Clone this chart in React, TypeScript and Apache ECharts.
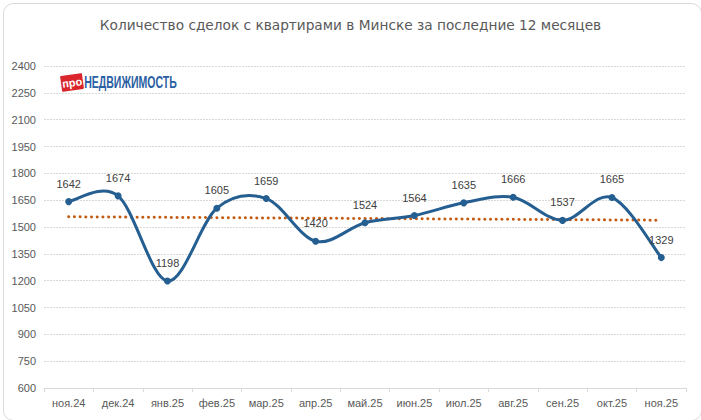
import React, { useEffect, useRef } from "react";
import * as echarts from "echarts";

const categories = ["ноя.24", "дек.24", "янв.25", "фев.25", "мар.25", "апр.25", "май.25", "июн.25", "июл.25", "авг.25", "сен.25", "окт.25", "ноя.25"];
const deals = [1642, 1674, 1198, 1605, 1659, 1420, 1524, 1564, 1635, 1666, 1537, 1665, 1329];
const yMin = 600;
const yMax = 2400;
const yStep = 150;
const title = "Количество сделок с квартирами в Минске за последние 12 месяцев";

function linearTrend(values: number[]): number[] {
  const n = values.length;
  const mx = (n - 1) / 2;
  const my = values.reduce((a, b) => a + b, 0) / n;
  let num = 0;
  let den = 0;
  values.forEach((v, i) => {
    num += (i - mx) * (v - my);
    den += (i - mx) * (i - mx);
  });
  const slope = num / den;
  return values.map((_, i) => +(my + slope * (i - mx)).toFixed(2));
}

const FONT = "'Liberation Sans', Arial, sans-serif";
const TFONT = "'DejaVu Sans', Verdana, sans-serif";
const LINE_COLOR = "#255E91";

export default function App() {
  const ref = useRef<HTMLDivElement>(null);
  useEffect(() => {
    document.body.style.margin = "0";
    const chart = echarts.init(ref.current!, null, { renderer: "svg" });
    chart.setOption({
      animation: false,
      backgroundColor: "#ffffff",
      title: {
        text: title,
        left: "center",
        top: 13,
        textStyle: { fontFamily: TFONT, fontSize: 13.7, fontWeight: "normal", color: "#595959" },
      },
      grid: { left: 44, right: 15, top: 66, bottom: 32 },
      xAxis: {
        type: "category",
        data: categories,
        boundaryGap: true,
        axisLine: { lineStyle: { color: "#d9d9d9", width: 1 } },
        axisTick: { show: true, length: 4, lineStyle: { color: "#d9d9d9" } },
        axisLabel: { fontFamily: FONT, fontSize: 11, color: "#595959", margin: 9 },
      },
      yAxis: {
        type: "value",
        min: yMin,
        max: yMax,
        interval: yStep,
        axisLine: { show: false },
        axisTick: { show: false },
        axisLabel: { fontFamily: FONT, fontSize: 11, color: "#595959", margin: 8, formatter: (v: number) => String(v) },
        splitLine: { lineStyle: { color: "#d9d9d9", type: [2, 1], width: 1 } },
      },
      series: [
        {
          type: "custom",
          data: deals.map((v, i) => [i, v]),
          silent: true,
          z: 3,
          renderItem: (params: any, api: any) => {
            if (params.dataIndex !== 0) return null;
            const pts = deals.map((v, i) => api.coord([i, v]));
            const n = pts.length;
            let d = `M${pts[0][0]},${pts[0][1]}`;
            for (let i = 0; i < n - 1; i++) {
              const p0 = pts[Math.max(0, i - 1)];
              const p1 = pts[i];
              const p2 = pts[i + 1];
              const p3 = pts[Math.min(n - 1, i + 2)];
              const c1x = p1[0] + (p2[0] - p0[0]) / 6;
              const c1y = p1[1] + (p2[1] - p0[1]) / 6;
              const c2x = p2[0] - (p3[0] - p1[0]) / 6;
              const c2y = p2[1] - (p3[1] - p1[1]) / 6;
              d += ` C${c1x},${c1y} ${c2x},${c2y} ${p2[0]},${p2[1]}`;
            }
            return {
              type: "path",
              shape: { pathData: d },
              style: { fill: "none", stroke: LINE_COLOR, lineWidth: 3, lineJoin: "round" },
            };
          },
        },
        {
          type: "line",
          data: deals,
          symbol: "circle",
          symbolSize: 7,
          lineStyle: { width: 0, opacity: 0 },
          itemStyle: { color: LINE_COLOR },
          label: {
            show: true,
            position: "top",
            distance: 9,
            fontFamily: FONT,
            fontSize: 11,
            color: "#404040",
          },
          z: 4,
        },
        {
          type: "line",
          data: linearTrend(deals),
          symbol: "none",
          lineStyle: { color: "#C55A11", width: 3, type: [0.1, 5.6], cap: "round" },
          z: 2,
          silent: true,
        },
      ],
      graphic: [
        {
          type: "rect",
          left: 1,
          top: 1,
          shape: { width: 698, height: 417, r: 10 },
          style: { fill: "none", stroke: "#d9d9d9", lineWidth: 1 },
          silent: true,
        },
        {
          type: "group",
          left: 60,
          top: 73,
          children: [
            {
              type: "rect",
              x: 0,
              y: 2,
              rotation: 0.14,
              originX: 11,
              originY: 9,
              shape: { width: 22, height: 16, r: 1 },
              style: { fill: "#D9252B" },
            },
            {
              type: "text",
              x: 11,
              y: 10,
              rotation: 0.14,
              style: {
                text: "про",
                fill: "#ffffff",
                font: "bold 11px " + FONT,
                align: "center",
                verticalAlign: "middle",
              },
            },
            {
              type: "text",
              x: 23,
              y: 1,
              scaleX: 0.62,
              style: {
                text: "НЕДВИЖИМОСТЬ",
                fill: "#2B5FA3",
                font: "bold 17px " + FONT,
                verticalAlign: "top",
              },
            },
          ],
        },
      ],
    });
    return () => chart.dispose();
  }, []);
  return <div ref={ref} style={{ position: "absolute", left: 0, top: 0, width: 701, height: 420 }} />;
}
